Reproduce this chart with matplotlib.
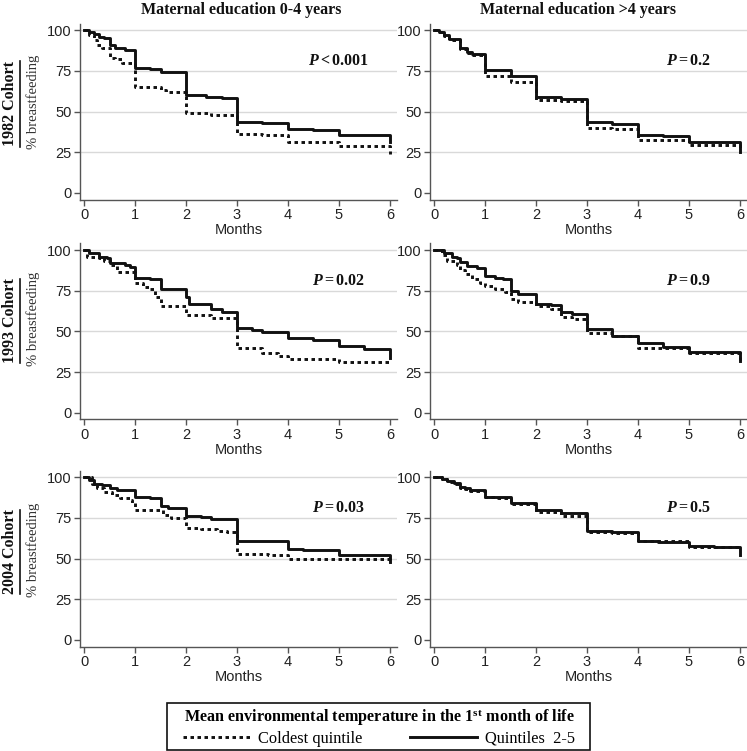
import matplotlib
matplotlib.use("Agg")
import matplotlib.pyplot as plt
from matplotlib.lines import Line2D
from matplotlib.patches import Rectangle

plt.rcParams['mathtext.fontset'] = 'custom'
plt.rcParams['mathtext.rm'] = 'Liberation Serif:bold'
plt.rcParams['mathtext.it'] = 'Liberation Serif:italic:bold'
plt.rcParams['mathtext.bf'] = 'Liberation Serif:bold'

# ---------------- data ----------------
col_titles = ["Maternal education 0-4 years", "Maternal education >4 years"]
row_titles = ["1982 Cohort", "1993 Cohort", "2004 Cohort"]
p_values = [["<0.001", "=0.2"], ["=0.02", "=0.9"], ["=0.03", "=0.5"]]
x_ticks = [0, 1, 2, 3, 4, 5, 6]
y_ticks = [0, 25, 50, 75, 100]
legend_title = r"Mean environmental temperature in the 1$^{\mathbf{st}}$ month of life"
legend_labels = ["Coldest quintile", "Quintiles  2-5"]

# 1982, education 0-4
t_82_low_warm = [0, 0.1, 0.2, 0.3, 0.4, 0.5, 0.6, 0.8, 1.0, 1.3, 1.5, 2.0, 2.4, 2.7, 3.0, 3.5, 4.0, 4.5, 5.0, 6.0]
s_82_low_warm = [100, 99, 97.5, 96, 95, 91, 89, 87.5, 76.5, 76, 74, 60, 59, 58, 43.5, 43, 39, 38.5, 35.5, 31]
t_82_low_cold = [0, 0.1, 0.2, 0.25, 0.35, 0.5, 0.6, 0.75, 1.0, 1.5, 1.6, 2.0, 2.5, 3.0, 3.5, 4.0, 5.0, 6.0]
s_82_low_cold = [100, 97, 94, 91, 89, 83, 82, 80, 65, 63, 62, 49, 48, 36, 35.5, 31.5, 29, 24]
# 1982, education >4
t_82_high_warm = [0, 0.1, 0.2, 0.3, 0.5, 0.65, 0.75, 1.0, 1.5, 2.0, 2.5, 3.0, 3.5, 4.0, 4.5, 5.0, 6.0]
s_82_high_warm = [100, 99, 97, 94.5, 89, 86.5, 85, 75.5, 71.5, 59, 57.5, 43.5, 42.5, 35.5, 35, 31.5, 25]
t_82_high_cold = [0, 0.1, 0.2, 0.3, 0.5, 0.65, 0.75, 1.0, 1.5, 2.0, 2.5, 3.0, 3.5, 4.0, 5.0, 6.0]
s_82_high_cold = [100, 99, 96.5, 94, 88.5, 86, 84.5, 72, 68, 57, 56.5, 40, 39.5, 32.5, 29.5, 27]
# 1993, education 0-4
t_93_low_warm = [0, 0.1, 0.3, 0.45, 0.5, 0.8, 0.9, 1.0, 1.3, 1.5, 2.0, 2.05, 2.5, 2.7, 3.0, 3.3, 3.5, 4.0, 4.5, 5.0, 5.5, 6.0]
s_93_low_warm = [100, 98, 96, 95, 92, 91, 89.5, 83, 82, 76, 71, 67, 63.5, 62, 52, 51, 49.5, 46, 45, 41, 39.5, 34]
t_93_low_cold = [0, 0.05, 0.3, 0.4, 0.5, 0.65, 1.0, 1.15, 1.3, 1.4, 1.5, 2.0, 2.5, 3.0, 3.5, 3.8, 4.0, 5.0, 6.0]
s_93_low_cold = [100, 96, 95, 93, 90.5, 86.5, 80, 77.5, 76, 71, 65.5, 60, 58, 40, 36.5, 35, 33, 31, 30]
# 1993, education >4
t_93_high_warm = [0, 0.2, 0.35, 0.45, 0.5, 0.65, 0.85, 1.0, 1.2, 1.35, 1.5, 1.65, 2.0, 2.3, 2.5, 2.7, 3.0, 3.5, 4.0, 4.5, 5.0, 6.0]
s_93_high_warm = [100, 98, 96, 95, 92.5, 90, 89, 84, 83, 82, 75, 73, 67, 66, 62, 61, 51.5, 47.5, 43, 40.5, 37.5, 32]
t_93_high_cold = [0, 0.15, 0.25, 0.45, 0.5, 0.6, 0.75, 0.9, 1.0, 1.2, 1.4, 1.5, 1.65, 2.0, 2.3, 2.5, 2.7, 3.0, 3.5, 4.0, 5.0, 6.0]
s_93_high_cold = [100, 97, 93, 91, 87.5, 85, 82, 80, 78, 76, 74.5, 70, 68, 65.5, 64, 59, 57.5, 49, 47, 40, 36.5, 32]
# 2004, education 0-4
t_04_low_warm = [0, 0.1, 0.2, 0.35, 0.5, 0.65, 1.0, 1.3, 1.5, 1.65, 2.0, 2.3, 2.5, 3.0, 4.0, 4.3, 5.0, 6.0]
s_04_low_warm = [100, 98, 96, 95, 93.5, 92, 88, 87, 82.5, 81, 76, 75.5, 74, 61, 56, 55, 52, 48]
t_04_low_cold = [0, 0.15, 0.25, 0.4, 0.55, 0.7, 0.9, 0.95, 1.0, 1.55, 1.7, 2.0, 2.3, 2.6, 2.8, 3.0, 3.3, 3.6, 4.0, 6.0]
s_04_low_cold = [100, 96, 93, 91, 89, 87, 86, 84, 79.5, 77, 75, 69, 68, 67, 66, 53, 52.5, 52, 49.5, 47]
# 2004, education >4
t_04_high_warm = [0, 0.15, 0.25, 0.4, 0.5, 0.6, 0.7, 1.0, 1.25, 1.5, 2.0, 2.3, 2.5, 3.0, 3.5, 4.0, 4.4, 5.0, 5.5, 6.0]
s_04_high_warm = [100, 98.5, 97.5, 96.5, 94, 93, 92, 88, 87.5, 84, 80, 79.5, 78, 67, 66, 61, 60, 57.5, 57, 52]
t_04_high_cold = [0, 0.15, 0.25, 0.4, 0.5, 0.6, 0.7, 1.0, 1.25, 1.5, 2.0, 2.5, 3.0, 3.5, 4.0, 5.0, 6.0]
s_04_high_cold = [100, 98.5, 97, 96, 93.5, 92.5, 91.5, 88, 87, 83.5, 78.5, 76, 66.5, 65.5, 60.5, 57, 56]

panels = [
    [(t_82_low_cold, s_82_low_cold, t_82_low_warm, s_82_low_warm),
     (t_82_high_cold, s_82_high_cold, t_82_high_warm, s_82_high_warm)],
    [(t_93_low_cold, s_93_low_cold, t_93_low_warm, s_93_low_warm),
     (t_93_high_cold, s_93_high_cold, t_93_high_warm, s_93_high_warm)],
    [(t_04_low_cold, s_04_low_cold, t_04_low_warm, s_04_low_warm),
     (t_04_high_cold, s_04_high_cold, t_04_high_warm, s_04_high_warm)],
]

# ---------------- layout ----------------
W, H = 747, 751
fig = plt.figure(figsize=(W / 100, H / 100), dpi=100)

col_x0 = [80, 430]
ax_w = 317
row_bottom = [199.5, 419.5, 646.5]
ax_h = 176
line_col = "#111111"
spine_col = "#555555"
grid_col = "#d9d9d9"

handles = None
for r in range(3):
    for c in range(2):
        ax = fig.add_axes([col_x0[c] / W, 1 - row_bottom[r] / H, ax_w / W, ax_h / H])
        tc, sc, tw, sw = panels[r][c]
        lc, = ax.step(tc, sc, where="post", color=line_col, lw=2.1,
                      linestyle=(0, (1.2, 1.2)))
        lw_, = ax.step(tw, sw, where="post", color=line_col, lw=2.1)
        if handles is None:
            handles = [lc, lw_]
        ax.set_xlim(-0.08, 6.14)
        ax.set_ylim(-4, 104)
        ax.set_xticks(x_ticks)
        ax.set_yticks(y_ticks)
        for yv in y_ticks[1:]:
            ax.axhline(yv, color=grid_col, lw=1.0, zorder=0)
        for s in ["top", "right"]:
            ax.spines[s].set_visible(False)
        for s in ["left", "bottom"]:
            ax.spines[s].set_color(spine_col)
            ax.spines[s].set_linewidth(1.0)
        ax.tick_params(direction="out", length=4, width=1, color=spine_col,
                       labelcolor="#222222", pad=2)
        for lab in ax.get_xticklabels() + ax.get_yticklabels():
            lab.set_fontfamily("Liberation Sans")
            lab.set_fontsize(10.5)
        ax.set_xlabel("Months", fontfamily="Liberation Sans", fontsize=10.5,
                      color="#222222", labelpad=1)
        ax.text(5.0, 81, r"$\mathit{P}\mathbf{" + p_values[r][c] + "}$",
                fontsize=11.5, ha="center", va="center", color="#111111")

# column titles
for c, cx in enumerate([241, 578]):
    fig.text(cx / W, 1 - 10 / H, col_titles[c], ha="center", va="center",
             fontfamily="Liberation Serif", fontweight="bold", fontsize=11.5,
             color="#111111")

# row titles
row_centers = [104, 321, 552]
row_texts = []
for r, cy in enumerate(row_centers):
    t = fig.text(10 / W, 1 - cy / H, row_titles[r], rotation=90, ha="center",
                 va="center", fontfamily="Liberation Serif", fontweight="bold",
                 fontsize=11.5, color="#111111")
    row_texts.append(t)
    fig.text(33 / W, 1 - (cy - 2) / H, "% breastfeeding", rotation=90,
             ha="center", va="center", fontfamily="Liberation Serif",
             fontsize=10.5, color="#333333")

# underline row titles
fig.canvas.draw()
renderer = fig.canvas.get_renderer()
inv = fig.transFigure.inverted()
for t in row_texts:
    bb = t.get_window_extent(renderer)
    (x1, y0) = inv.transform((bb.x1 + 1.5, bb.y0))
    (_, y1) = inv.transform((bb.x1 + 1.5, bb.y1))
    fig.add_artist(Line2D([x1, x1], [y0, y1], transform=fig.transFigure,
                          color="#111111", lw=1.2))

# legend (frame drawn separately)
leg = fig.legend(handles, legend_labels, ncol=2, loc="center",
                 bbox_to_anchor=(379 / W, 1 - 727 / H),
                 frameon=False, borderpad=0.0,
                 handlelength=4.1, handletextpad=0.45, columnspacing=2.9,
                 labelspacing=0.2,
                 prop=dict(family="Liberation Serif", size=11.8),
                 title=legend_title,
                 title_fontproperties=dict(family="Liberation Serif",
                                           weight="bold", size=11.6))
fig.add_artist(Rectangle((167 / W, 1 - 750 / H), 423 / W, 47 / H,
                         transform=fig.transFigure, fill=False,
                         edgecolor="#111111", lw=1.2))

fig.savefig("out.png", dpi=100)
